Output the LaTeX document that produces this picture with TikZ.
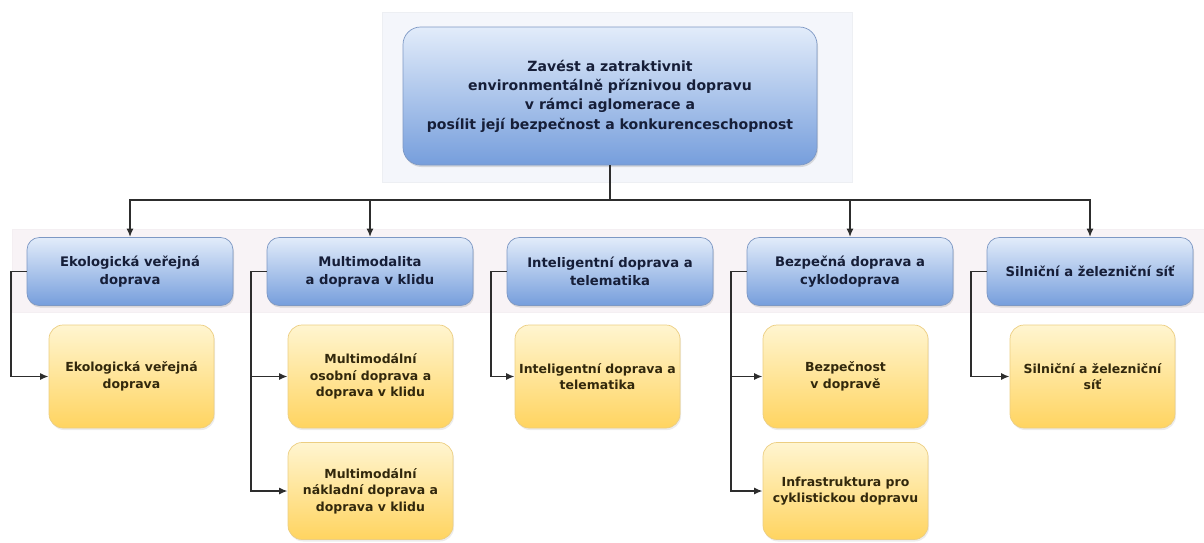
\documentclass[tikz,border=0pt]{standalone}
\usepackage{fontspec}
\setmainfont{DejaVu Sans}
\usepackage{tikz}
\usetikzlibrary{arrows.meta,positioning,shadows}
\definecolor{ink}{RGB}{45,45,45}
\definecolor{navy}{RGB}{22,30,56}
\definecolor{olive}{RGB}{50,40,12}
\definecolor{bTop}{RGB}{226,236,250}
\definecolor{bBot}{RGB}{118,158,220}
\definecolor{bLine}{RGB}{125,152,196}
\definecolor{yTop}{RGB}{255,245,208}
\definecolor{yBot}{RGB}{255,212,96}
\definecolor{yLine}{RGB}{236,206,130}
\definecolor{bandA}{RGB}{244,246,251}
\definecolor{bandB}{RGB}{248,243,246}
\tikzset{
  goal/.style={draw=bLine,rounded corners=10pt,top color=bTop,bottom color=bBot,
    text=navy,font=\fontsize{8}{11}\selectfont\bfseries,align=center,
    minimum width=8.28cm,minimum height=2.76cm,inner sep=2pt,
    drop shadow={shadow xshift=0.02cm,shadow yshift=-0.04cm,opacity=0.25}},
  area/.style={draw=bLine,rounded corners=7pt,top color=bTop,bottom color=bBot,
    text=navy,font=\fontsize{7.5}{10.2}\selectfont\bfseries,align=center,
    minimum width=4.12cm,minimum height=1.36cm,inner sep=2pt,
    drop shadow={shadow xshift=0.02cm,shadow yshift=-0.04cm,opacity=0.25}},
  measure/.style={draw=yLine,rounded corners=8pt,top color=yTop,bottom color=yBot,
    text=olive,font=\fontsize{7.1}{9.4}\selectfont\bfseries,align=center,
    minimum width=3.3cm,minimum height=2.06cm,inner sep=1pt,
    drop shadow={shadow xshift=0.02cm,shadow yshift=-0.04cm,opacity=0.15}},
  ar/.style={draw=ink,line width=1pt,-{Latex[length=1.7mm,width=1.4mm]}},
  band/.style={line width=0.4pt},
}
\begin{document}
\begin{tikzpicture}
  \useasboundingbox (0,0) rectangle (24.08,-10.84);
  % background bands
  \filldraw[band,fill=bandA,draw=bandA!85!black!20!bandA] (7.64,-0.24) rectangle (17.04,-3.64);
  \filldraw[band,fill=bandB,draw=bandB!90!black!15!bandB] (0.24,-4.58) rectangle (24.08,-6.24);
  \node[goal] (top) at (12.2,-1.92) {Zavést a zatraktivnit\\environmentálně příznivou dopravu\\v rámci aglomerace a\\posílit její bezpečnost a konkurenceschopnost};
  \foreach \i/\lab in {1/{Ekologická veřejná\\doprava},2/{Multimodalita\\a doprava v klidu},
    3/{Inteligentní doprava a\\telematika},4/{Bezpečná doprava a\\cyklodoprava},5/{Silniční a železniční síť}} {
    \node[area] (a\i) at ({2.6+(\i-1)*4.8},-5.43) {\lab};
  }
  \node[measure] (m1) at (2.63,-7.53) {Ekologická veřejná\\doprava};
  \node[measure] (m2) at (7.41,-7.53) {Multimodální\\osobní doprava a\\doprava v klidu};
  \node[measure] (m3) at (11.95,-7.53) {Inteligentní doprava a\\telematika};
  \node[measure] (m4) at (16.91,-7.53) {Bezpečnost\\v dopravě};
  \node[measure] (m5) at (21.85,-7.53) {Silniční a železniční\\síť};
  \node[measure,minimum height=1.94cm] (m6) at (7.41,-9.82) {Multimodální\\nákladní doprava a\\doprava v klidu};
  \node[measure,minimum height=1.94cm] (m7) at (16.91,-9.82) {Infrastruktura pro\\cyklistickou dopravu};
  \foreach \i in {1,2,4,5}
    \draw[ar] (top.south) -- ++(0,-0.7) -| (a\i.north);
  \draw[ar,-] (top.south) -- ++(0,-0.7);
  \foreach \a/\m in {1/1,2/2,2/6,3/3,4/4,4/7,5/5}
    \draw[ar] (a\a.west) -- ++(-0.32,0) |- (m\m.west);
\end{tikzpicture}
\end{document}
